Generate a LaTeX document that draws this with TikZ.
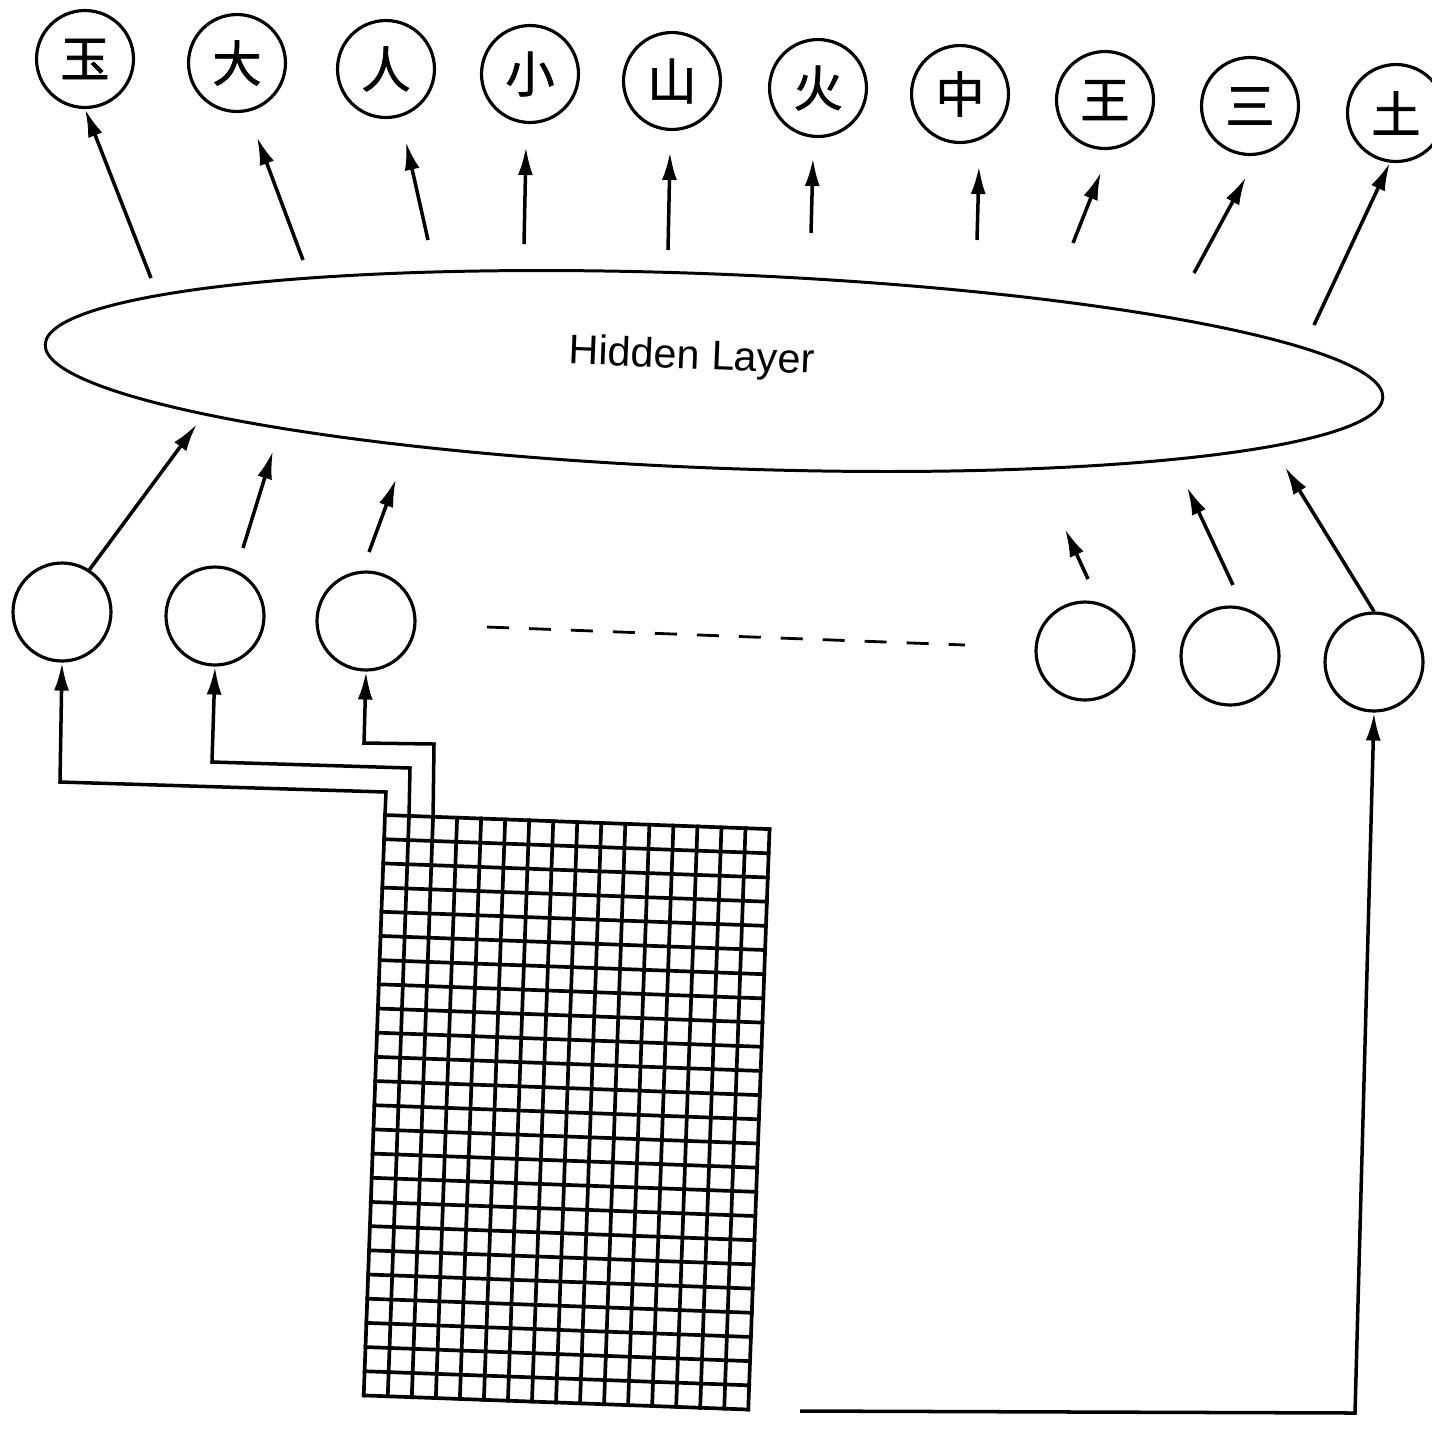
\documentclass[tikz,border=0pt]{standalone}
\usepackage{fontspec}
\setmainfont{Liberation Sans}
\newfontfamily\cjk[FakeBold=1.5]{Noto Sans CJK SC}
\usetikzlibrary{arrows.meta,shapes.geometric}

\tikzset{
  outc/.style={draw, circle, line width=1.8pt, minimum size=1.94cm, inner sep=0pt,
    font=\cjk\fontsize{28}{28}\selectfont},
  inc/.style={draw, circle, line width=1.8pt, minimum size=1.96cm, inner sep=0pt},
  hidden/.style={draw, ellipse, line width=1.7pt, minimum width=26.78cm,
    minimum height=3.88cm, inner sep=0pt, rotate=-2.27},
  hidlbl/.style={inner sep=0pt, rotate=-2.27, font=\fontsize{23.5}{26}\selectfont},
  arr/.style={line width=2pt, -{Latex[length=0.56cm,width=0.3cm]}},
  wire/.style={line width=1.8pt, line join=miter},
  gridl/.style={line width=2.1pt, line cap=rect},
}

\begin{document}
\begin{tikzpicture}[x=0.02cm, y=-0.02cm]
  \useasboundingbox (0,0) rectangle (1432,1428);
  %
  \node[outc] (o1) at (85,59) {玉};        % output row
  \node[outc] (o2) at (237,63) {大};
  \node[outc] (o3) at (386,69) {人};
  \node[outc] (o4) at (530,74) {小};
  \node[outc] (o5) at (672,81) {山};
  \node[outc] (o6) at (818,88) {火};
  \node[outc] (o7) at (960,94) {中};
  \node[outc] (o8) at (1105,100) {王};
  \node[outc] (o9) at (1250,106) {三};
  \node[outc] (o10) at (1396,113) {土};
  %
  \node[hidden] (hid) at (714,371) {};     % hidden layer
  \node[hidlbl] (hidtxt) at (692,358) {Hidden Layer};
  %
  \node[inc] (i1) at (62,612) {};          % input row
  \node[inc] (i2) at (215,616) {};
  \node[inc] (i3) at (366,621) {};
  \node[inc] (i4) at (1085,651) {};
  \node[inc] (i5) at (1230,656) {};
  \node[inc] (i6) at (1374,662) {};
  %
  \coordinate (up1) at (151,278);          % hidden -> output
  \coordinate (up2) at (303,260);  \coordinate (op2) at (257,137);
  \coordinate (up3) at (428,240);  \coordinate (op3) at (406,142);
  \coordinate (up4) at (524,244);  \coordinate (op4) at (526,147);
  \coordinate (up5) at (668,250);  \coordinate (op5) at (670,152);
  \coordinate (up6) at (811,233);  \coordinate (op6) at (813,158);
  \coordinate (up7) at (977,240);  \coordinate (op7) at (979,166);
  \coordinate (up8) at (1073,243); \coordinate (op8) at (1101,172);
  \coordinate (up9) at (1194,273); \coordinate (op9) at (1246,177);
  \coordinate (up10) at (1314,325);
  \draw[arr] (up1) -- (o1.south);
  \draw[arr] (up2) -- (op2);
  \draw[arr] (up3) -- (op3);
  \draw[arr] (up4) -- (op4);
  \draw[arr] (up5) -- (op5);
  \draw[arr] (up6) -- (op6);
  \draw[arr] (up7) -- (op7);
  \draw[arr] (up8) -- (op8);
  \draw[arr] (up9) -- (op9);
  \draw[arr] (up10) -- (o10.-97);
  %
  \coordinate (hp1) at (197,424);          % input -> hidden
  \coordinate (ip2) at (243,548);  \coordinate (hp2) at (273,451);
  \coordinate (ip3) at (369,552);  \coordinate (hp3) at (396,479);
  \coordinate (ip4) at (1088,579); \coordinate (hp4) at (1065,529);
  \coordinate (ip5) at (1233,585); \coordinate (hp5) at (1187,487);
  \coordinate (hp6) at (1285,467);
  \draw[arr] (i1.57) -- (hp1);
  \draw[arr] (ip2) -- (hp2);
  \draw[arr] (ip3) -- (hp3);
  \draw[arr] (ip4) -- (hp4);
  \draw[arr] (ip5) -- (hp5);
  \draw[arr] (i6.north) -- (hp6);
  %
  \coordinate (dl) at (487,627);           % gap in input row
  \coordinate (dr) at (965,645);
  \draw[line width=1.6pt, dash pattern=on 0.44cm off 0.4cm] (dl) -- (dr);
  %
  \begin{scope}[shift={(385,815)}, rotate=-2.1]   % retina
    \foreach \c in {0,...,16} \draw[gridl] (\c*24.05,0) -- (\c*24.05,580.8); % cols
    \foreach \r in {0,...,24} \draw[gridl] (0,\r*24.2) -- (384.8,\r*24.2);   % rows
    \coordinate (g0) at (0,0);
    \coordinate (g1) at (24.05,0);
    \coordinate (g2) at (48.1,0);
  \end{scope}
  %
  \coordinate (gr) at (800,1411);          % wires to input row
  \draw[wire, arr] (g0) -- (386,792) -- (60,782) -- (i1.south);
  \draw[wire, arr] (g1) -- (410,768) -- (212,762) -- (i2.south);
  \draw[wire, arr] (g2) -- (434,744) -- (364,743) -- (i3.south);
  \draw[wire, arr] (gr) -- (1355,1413) -- (i6.south);
\end{tikzpicture}
\end{document}
